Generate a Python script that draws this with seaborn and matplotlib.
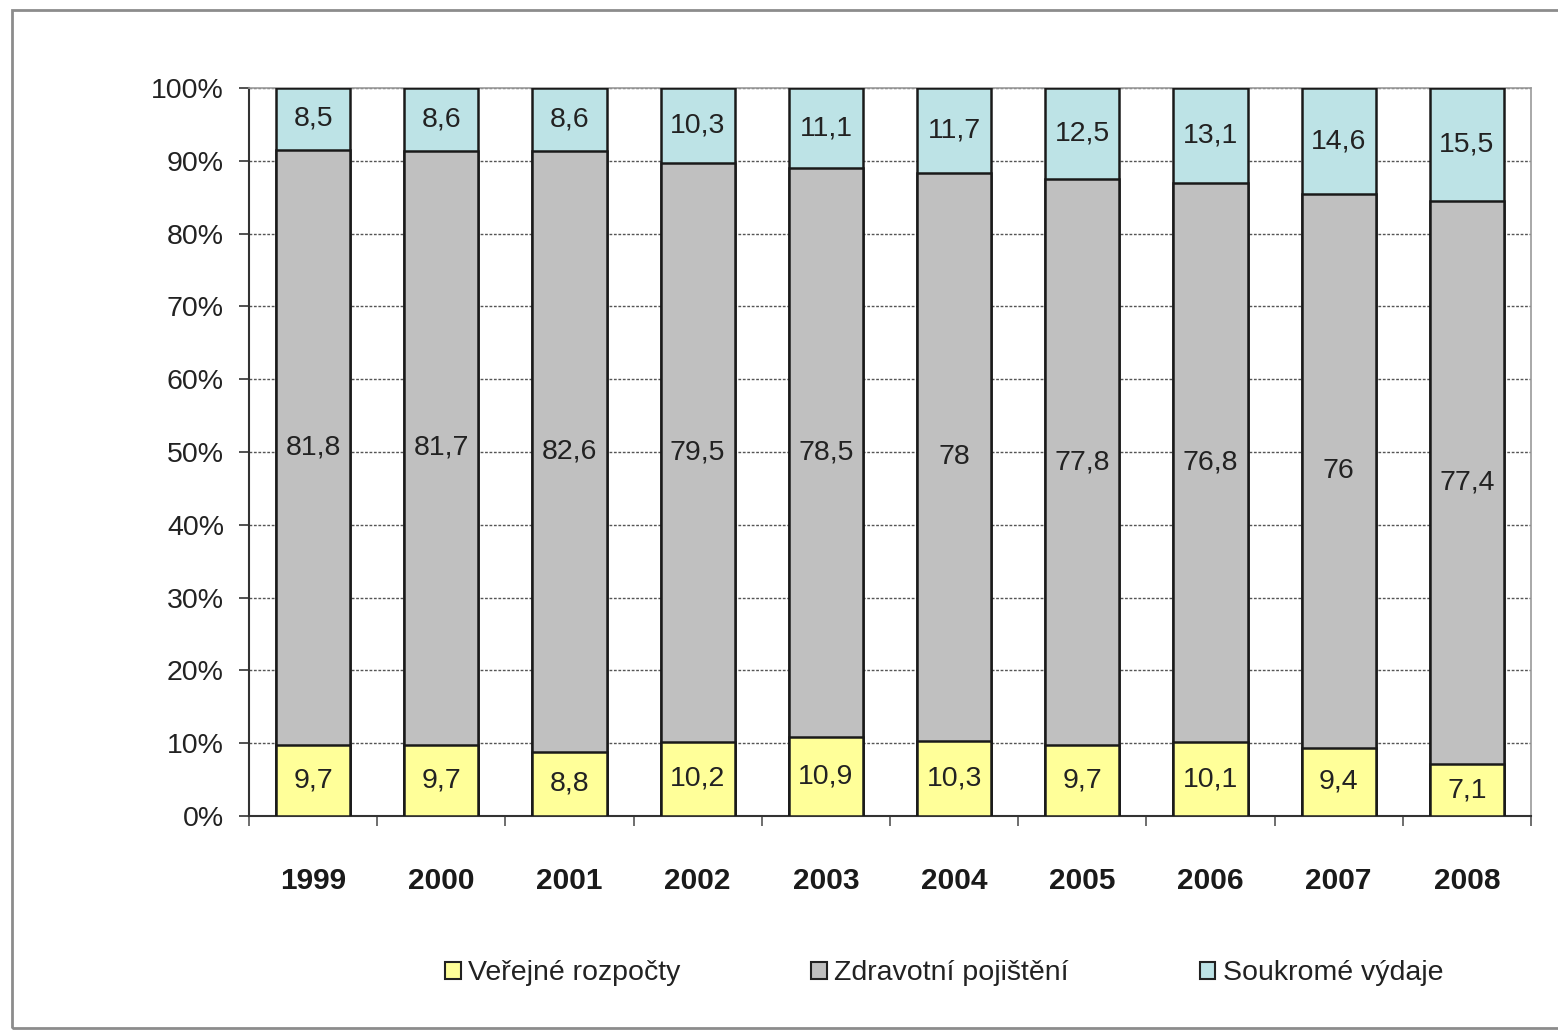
import matplotlib
matplotlib.use("Agg")
import matplotlib.pyplot as plt
from matplotlib.patches import Rectangle, Patch
from matplotlib.ticker import FixedLocator, PercentFormatter
import numpy as np
import pandas as pd
import seaborn as sns

years = ["1999", "2000", "2001", "2002", "2003", "2004", "2005", "2006", "2007", "2008"]
verejne = [9.7, 9.7, 8.8, 10.2, 10.9, 10.3, 9.7, 10.1, 9.4, 7.1]
pojisteni = [81.8, 81.7, 82.6, 79.5, 78.5, 78.0, 77.8, 76.8, 76.0, 77.4]
soukrome = [8.5, 8.6, 8.6, 10.3, 11.1, 11.7, 12.5, 13.1, 14.6, 15.5]
series_names = ["Veřejné rozpočty", "Zdravotní pojištění", "Soukromé výdaje"]
colors = ["#FFFF99", "#C0C0C0", "#BDE3E6"]

sns.set_theme(style="white")
plt.rcParams["font.family"] = ["Liberation Sans", "DejaVu Sans"]

v = np.array(verejne)
p = np.array(pojisteni)
s = np.array(soukrome)
total = v + p + s
share_v = v / total * 100
share_p = p / total * 100
share_s = s / total * 100

df = pd.DataFrame({
    "year": years,
    "top1": share_v,
    "top2": share_v + share_p,
    "top3": share_v + share_p + share_s,
})

fig = plt.figure(figsize=(15.58, 10.30), dpi=100)
ax = fig.add_axes([0.1598, 0.2078, 0.8229, 0.7068])

bar_w = 0.58
# stacked bars drawn from the tallest cumulative layer down
for col, c in zip(["top3", "top2", "top1"], colors[::-1]):
    sns.barplot(data=df, x="year", y=col, color=c, width=bar_w,
                edgecolor="#1a1a1a", linewidth=1.8, saturation=1, ax=ax, zorder=3)

# segment value labels
def fmt(val):
    return f"{val:g}".replace(".", ",")

bottoms = [np.zeros(len(years)), share_v, share_v + share_p]
heights = [share_v, share_p, share_s]
raw = [v, p, s]
for b, h, r in zip(bottoms, heights, raw):
    for i in range(len(years)):
        ax.text(i, b[i] + h[i] / 2, fmt(r[i]), ha="center", va="center",
                fontsize=20.5, color="#222222", zorder=5)

ax.set_ylim(0, 100)
ax.set_xlim(-0.5, len(years) - 0.5)
ax.yaxis.set_major_locator(FixedLocator(np.arange(0, 101, 10)))
ax.yaxis.set_major_formatter(PercentFormatter(decimals=0))
ax.yaxis.grid(True, color="#555555", linestyle=(0, (2, 1.2)), linewidth=1.0)
ax.set_axisbelow(True)
ax.set_xlabel("")
ax.set_ylabel("")

ax.tick_params(axis="y", which="major", length=7, width=1.2, color="#333333",
               direction="out", left=True, pad=11, labelsize=20.5, labelcolor="#222222")
ax.tick_params(axis="x", which="major", length=0, pad=36.5, labelsize=21.5)
for lbl in ax.get_xticklabels():
    lbl.set_fontweight("bold")
    lbl.set_color("#1a1a1a")
ax.xaxis.set_minor_locator(FixedLocator(np.arange(-0.5, len(years), 1.0)))
ax.tick_params(axis="x", which="minor", length=7, width=1.2, color="#555555",
               direction="out", bottom=True)

for side in ["left", "bottom"]:
    ax.spines[side].set_color("#333333")
    ax.spines[side].set_linewidth(1.5)
for side in ["top", "right"]:
    ax.spines[side].set_color("#9a9a9a")
    ax.spines[side].set_linewidth(1.2)

handles = [Patch(facecolor=c, edgecolor="#222222", linewidth=1.5) for c in colors]
fig.legend(handles, series_names, loc="center", bbox_to_anchor=(0.606, 0.055),
           ncol=3, frameon=False, fontsize=20.5, handlelength=0.55, handleheight=0.55,
           handletextpad=0.25, columnspacing=4.6, labelcolor="#222222")

# outer chart frame
fig.patches.append(Rectangle((12 / 1558, 2 / 1030), 1560 / 1558, 1018 / 1030,
                             transform=fig.transFigure, fill=False,
                             edgecolor="#8c8c8c", linewidth=2.0))

fig.savefig("out.png", dpi=100)
